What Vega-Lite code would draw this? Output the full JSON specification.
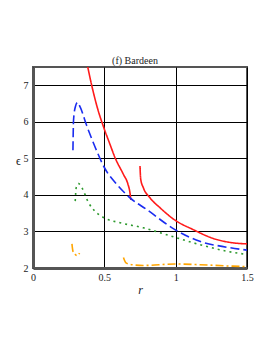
{
  "$schema": "https://vega.github.io/schema/vega-lite/v6.json",
  "width": 214,
  "height": 201,
  "autosize": "none",
  "padding": {"left": 33, "top": 67, "right": 26, "bottom": 85},
  "background": "white",
  "title": {"text": "(f) Bardeen", "font": "Liberation Serif", "fontSize": 10, "fontWeight": "normal", "color": "#222", "offset": 1, "dx": -5},
  "config": {
    "view": {"stroke": "#555", "strokeWidth": 2},
    "axis": {"labelFont": "Liberation Serif", "titleFont": "Liberation Serif", "labelColor": "#222", "titleColor": "#222", "labelFontSize": 10, "gridColor": "#000", "gridOpacity": 1, "gridWidth": 1, "ticks": false, "domainColor": "#555", "domainWidth": 3}
  },
  "data": {"values": [
    {"s": "a", "b": "a1", "i": 0, "r": 0.382, "e": 7.53},
    {"s": "a", "b": "a1", "i": 1, "r": 0.412, "e": 6.99},
    {"s": "a", "b": "a1", "i": 2, "r": 0.45, "e": 6.4},
    {"s": "a", "b": "a1", "i": 3, "r": 0.5, "e": 5.8},
    {"s": "a", "b": "a1", "i": 4, "r": 0.54, "e": 5.38},
    {"s": "a", "b": "a1", "i": 5, "r": 0.575, "e": 5.02},
    {"s": "a", "b": "a1", "i": 6, "r": 0.634, "e": 4.56},
    {"s": "a", "b": "a1", "i": 7, "r": 0.665, "e": 4.3},
    {"s": "a", "b": "a1", "i": 8, "r": 0.68, "e": 4.05},
    {"s": "a", "b": "a1", "i": 9, "r": 0.686, "e": 3.86},
    {"s": "a", "b": "a2", "i": 0, "r": 0.75, "e": 4.79},
    {"s": "a", "b": "a2", "i": 1, "r": 0.755, "e": 4.43},
    {"s": "a", "b": "a2", "i": 2, "r": 0.773, "e": 4.2},
    {"s": "a", "b": "a2", "i": 3, "r": 0.82, "e": 3.92},
    {"s": "a", "b": "a2", "i": 4, "r": 0.89, "e": 3.65},
    {"s": "a", "b": "a2", "i": 5, "r": 0.995, "e": 3.31},
    {"s": "a", "b": "a2", "i": 6, "r": 1.123, "e": 3.05},
    {"s": "a", "b": "a2", "i": 7, "r": 1.262, "e": 2.81},
    {"s": "a", "b": "a2", "i": 8, "r": 1.4, "e": 2.69},
    {"s": "a", "b": "a2", "i": 9, "r": 1.5, "e": 2.66},
    {"s": "b", "b": "b1", "i": 0, "r": 0.28, "e": 5.22},
    {"s": "b", "b": "b1", "i": 1, "r": 0.284, "e": 6.03},
    {"s": "b", "b": "b1", "i": 2, "r": 0.296, "e": 6.4},
    {"s": "b", "b": "b1", "i": 3, "r": 0.312, "e": 6.53},
    {"s": "b", "b": "b1", "i": 4, "r": 0.331, "e": 6.4},
    {"s": "b", "b": "b1", "i": 5, "r": 0.377, "e": 5.89},
    {"s": "b", "b": "b1", "i": 6, "r": 0.447, "e": 5.2},
    {"s": "b", "b": "b1", "i": 7, "r": 0.5, "e": 4.75},
    {"s": "b", "b": "b1", "i": 8, "r": 0.587, "e": 4.29},
    {"s": "b", "b": "b1", "i": 9, "r": 0.68, "e": 3.92},
    {"s": "b", "b": "b1", "i": 10, "r": 0.797, "e": 3.6},
    {"s": "b", "b": "b1", "i": 11, "r": 0.995, "e": 3.05},
    {"s": "b", "b": "b1", "i": 12, "r": 1.169, "e": 2.73},
    {"s": "b", "b": "b1", "i": 13, "r": 1.356, "e": 2.57},
    {"s": "b", "b": "b1", "i": 14, "r": 1.5, "e": 2.49},
    {"s": "c", "b": "c1", "i": 0, "r": 0.296, "e": 3.83},
    {"s": "c", "b": "c1", "i": 1, "r": 0.303, "e": 4.2},
    {"s": "c", "b": "c1", "i": 2, "r": 0.319, "e": 4.31},
    {"s": "c", "b": "c1", "i": 3, "r": 0.342, "e": 4.2},
    {"s": "c", "b": "c1", "i": 4, "r": 0.389, "e": 3.79},
    {"s": "c", "b": "c1", "i": 5, "r": 0.447, "e": 3.51},
    {"s": "c", "b": "c1", "i": 6, "r": 0.5, "e": 3.37},
    {"s": "c", "b": "c1", "i": 7, "r": 0.61, "e": 3.24},
    {"s": "c", "b": "c1", "i": 8, "r": 0.773, "e": 3.1},
    {"s": "c", "b": "c1", "i": 9, "r": 0.995, "e": 2.84},
    {"s": "c", "b": "c1", "i": 10, "r": 1.169, "e": 2.64},
    {"s": "c", "b": "c1", "i": 11, "r": 1.356, "e": 2.46},
    {"s": "c", "b": "c1", "i": 12, "r": 1.5, "e": 2.37},
    {"s": "d", "b": "d1", "i": 0, "r": 0.273, "e": 2.66},
    {"s": "d", "b": "d1", "i": 1, "r": 0.28, "e": 2.46},
    {"s": "d", "b": "d1", "i": 2, "r": 0.296, "e": 2.37},
    {"s": "d", "b": "d1", "i": 3, "r": 0.312, "e": 2.34},
    {"s": "d", "b": "d1", "i": 4, "r": 0.326, "e": 2.41},
    {"s": "d", "b": "d2", "i": 0, "r": 0.634, "e": 2.29},
    {"s": "d", "b": "d2", "i": 1, "r": 0.652, "e": 2.14},
    {"s": "d", "b": "d2", "i": 2, "r": 0.692, "e": 2.09},
    {"s": "d", "b": "d2", "i": 3, "r": 0.773, "e": 2.07},
    {"s": "d", "b": "d2", "i": 4, "r": 0.995, "e": 2.11},
    {"s": "d", "b": "d2", "i": 5, "r": 1.17, "e": 2.09},
    {"s": "d", "b": "d2", "i": 6, "r": 1.4, "e": 2.05},
    {"s": "d", "b": "d2", "i": 7, "r": 1.5, "e": 2.04}
  ]},
  "mark": {"type": "line", "clip": true, "strokeWidth": 1.6, "interpolate": "monotone"},
  "encoding": {
    "x": {"field": "r", "type": "quantitative", "scale": {"domain": [0, 1.5], "nice": false}, "axis": {"values": [0, 0.5, 1, 1.5], "format": "~g", "title": "r", "titleFontStyle": "italic", "titleFontWeight": "normal", "titleFontSize": 12, "labelPadding": 4, "titlePadding": 2, "labelFlush": false}},
    "y": {"field": "e", "type": "quantitative", "scale": {"domain": [2, 7.5], "nice": false, "zero": false}, "axis": {"values": [2, 3, 4, 5, 6, 7], "title": "ϵ", "titleAngle": 0, "titleFontWeight": "normal", "titleFontSize": 12, "titleX": -15, "titleY": 100, "titleAlign": "center", "labelPadding": 5}},
    "color": {"field": "s", "type": "nominal", "legend": null, "scale": {"domain": ["a", "b", "c", "d"], "range": ["#ff1a1a", "#1a2cf0", "#2e9a2e", "#ffa500"]}},
    "strokeDash": {"field": "s", "type": "nominal", "legend": null, "scale": {"domain": ["a", "b", "c", "d"], "range": [[1, 0], [9, 4], [2, 4], [8, 3, 2, 3]]}},
    "detail": {"field": "b"},
    "order": {"field": "i", "type": "quantitative"}
  }
}
